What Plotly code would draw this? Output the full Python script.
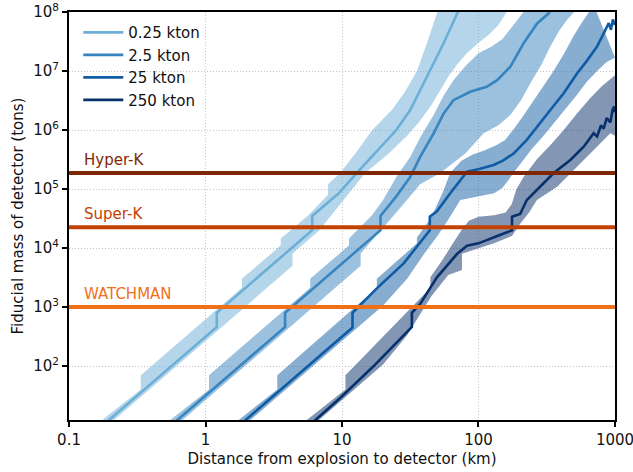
import math
import plotly.graph_objects as go

# ---- central curves: distance (km) vs. required fiducial mass (tons) ----
a_d = [0.15, 1.21, 1.21, 6.05, 6.05, 9.5, 12.85, 17.5, 25.0, 31.6, 42.5, 55.5, 70.0, 85.0]
a_m = [7.1, 460, 800, 2.0e4, 3.5e4, 8.5e4, 1.87e5, 4.0e5, 1.0e6, 2.18e6, 8.5e6, 2.95e7, 9.5e7, 2.5e8]

b_d = [0.3, 3.83, 3.83, 19.15, 19.15, 25.0, 31.6, 37.4, 46.9, 55.5, 65.6, 87.0, 115, 137, 171, 214, 269, 327, 360]
b_m = [2.83, 460, 800, 2.0e4, 3.5e4, 7.5e4, 1.6e5, 3.5e5, 8.8e5, 1.9e6, 3.2e6, 4.45e6, 5.4e6, 7.0e6,
       1.18e7, 2.95e7, 6.4e7, 9.5e7, 1.5e8]

c_d = [0.95, 11.94, 11.94, 18.0, 28.3, 44.0, 44.0, 49.6, 62.1, 73.6, 82.4, 103, 129, 150, 181, 226, 284,
       336, 421, 527, 624, 739, 827, 900, 935, 965, 1000]
c_m = [2.83, 448, 800, 2070, 5500, 2.0e4, 3.4e4, 4.2e4, 8.5e4, 1.42e5, 1.96e5, 2.2e5, 2.55e5, 3.0e5, 4.0e5,
       6.8e5, 1.3e6, 2.18e6, 4.2e6, 9.1e6, 1.5e7, 2.6e7, 4.35e7, 6.5e7, 5.0e7, 7.5e7, 6.0e7]

d_d = [3.2, 9.7, 17.0, 29.9, 32.5, 32.5, 37.4, 49.6, 69.5, 82.4, 100, 145, 176, 176, 202, 226, 284, 356,
       471, 590, 698, 740, 790, 827, 870, 925, 960, 985, 1000]
d_m = [2.95, 28.7, 98.9, 387, 460, 800, 1125, 3185, 7900, 1.09e4, 1.2e4, 1.68e4, 2.0e4, 3.4e4, 3.77e4,
       6.5e4, 1.09e5, 1.87e5, 3.1e5, 5.2e5, 8.8e5, 7.8e5, 1.2e6, 1.05e6, 1.6e6, 1.35e6, 2.2e6, 2.5e6, 2.0e6]

# ---- uncertainty bands: upper and lower edges ----
a_up_d = [0.15, 0.3355, 0.3355, 1.85, 1.85, 3.56, 3.56, 5.59, 7.9, 7.9, 9.7, 13.0, 16.65, 23.2, 29.0,
          35.4, 42.0, 49.6, 53.0]
a_up_m = [9.2, 40, 70, 2130, 3000, 11100, 14500, 3.5e4, 8.0e4, 1.2e5, 1.87e5, 4.5e5, 1.0e6, 2.18e6, 4.5e6,
          1.0e7, 3.0e7, 1.0e8, 1.5e8]
a_lo_d = [0.17, 4.34, 4.34, 6.73, 10.0, 14.8, 22.0, 30.0, 37.0, 45.0, 52.0, 60.0, 70.0, 82.0, 100, 120,
          140, 160, 180]
a_lo_m = [7.7, 4990, 8100, 1.95e4, 6.0e4, 1.87e5, 4.0e5, 8.0e5, 1.4e6, 2.6e6, 4.5e6, 8.0e6, 1.3e7, 2.0e7,
          3.0e7, 4.2e7, 6.0e7, 1.0e8, 1.5e8]

b_up_d = [0.474, 1.061, 1.061, 5.85, 5.85, 11.26, 11.26, 16.6, 20.0, 25.0, 31.6, 37.4, 46.9, 55.5, 65.6,
          80.0, 100, 125, 150, 175, 200, 214, 240]
b_up_m = [9.2, 40, 70, 2130, 3000, 11100, 14500, 3.6e4, 6.5e4, 1.6e5, 3.5e5, 7.5e5, 1.8e6, 3.8e6, 7.0e6,
          1.2e7, 2.0e7, 2.6e7, 3.5e7, 5.5e7, 8.0e7, 1.0e8, 1.5e8]
b_lo_d = [0.54, 13.7, 13.7, 25.0, 37.4, 52.5, 80.0, 109, 140, 171, 205, 240, 290, 336, 390, 445, 520]
b_lo_m = [7.7, 4990, 8100, 4.0e4, 1.2e5, 1.87e5, 4.0e5, 8.8e5, 1.2e6, 1.8e6, 3.2e6, 6.2e6, 1.3e7, 2.6e7,
          4.8e7, 7.3e7, 1.1e8]

c_up_d = [1.5, 3.355, 3.355, 18.0, 18.0, 35.4, 35.4, 45.0, 55.0, 62.0, 75.0, 90.0, 110, 135, 157, 185,
          215, 255, 300, 350, 420, 500, 580, 650, 700]
c_up_m = [9.2, 40, 70, 2100, 3000, 1.2e4, 1.5e4, 3.3e4, 9.0e4, 1.87e5, 3.0e5, 3.8e5, 4.5e5, 5.5e5, 6.8e5,
          1.1e6, 1.8e6, 3.2e6, 5.5e6, 9.5e6, 1.9e7, 4.0e7, 7.0e7, 1.0e8, 1.3e8]
c_lo_d = [1.7, 20.0, 30.0, 40.0, 50.0, 60.0, 73.6, 100, 130, 150, 165, 180, 210, 250, 300, 360, 430, 520,
          620, 740, 860, 1000]
c_lo_m = [7.7, 1060, 3000, 8000, 1.6e4, 3.0e4, 6.5e4, 7.5e4, 8.5e4, 1.05e5, 1.4e5, 1.87e5, 3.0e5, 5.0e5,
          8.0e5, 1.3e6, 2.2e6, 3.8e6, 6.5e6, 1.0e7, 1.4e7, 1.7e7]

d_up_d = [4.74, 10.6, 10.6, 44.4, 44.4, 55.0, 65.0, 75.0, 85.0, 100, 130, 158, 175, 190, 214, 268, 336,
          421, 527, 660, 800, 900, 1000]
d_up_m = [9.2, 40, 70, 2100, 3200, 6500, 1.2e4, 2.0e4, 2.9e4, 3.4e4, 3.6e4, 4.0e4, 5.5e4, 1.0e5, 1.6e5,
          3.2e5, 5.5e5, 1.0e6, 1.9e6, 3.5e6, 5.5e6, 7.0e6, 8.5e6]
d_lo_d = [5.4, 20.0, 29.9, 45.0, 60.0, 75.7, 75.7, 100, 130, 176, 200, 235, 268, 377, 527, 699, 925, 1000]
d_lo_m = [7.7, 106, 330, 1500, 3500, 4240, 8000, 1.0e4, 1.2e4, 1.6e4, 2.5e4, 4.0e4, 6.5e4, 1.09e5, 2.4e5,
          4.6e5, 8.8e5, 8.0e5]

# ---- reference detectors ----
det_names = ["Hyper-K", "Super-K", "WATCHMAN"]
det_mass = [1.87e5, 2.25e4, 1.0e3]
det_colors = ["#7f2704", "#c24104", "#f07018"]

series_names = ["0.25 kton", "2.5 kton", "25 kton", "250 kton"]
series_colors = [(107, 174, 214), (55, 132, 191), (16, 92, 164), (8, 48, 107)]

x_ticks = [0.1, 1, 10, 100, 1000]
x_tick_text = ["0.1", "1", "10", "100", "1000"]
y_ticks = [1e2, 1e3, 1e4, 1e5, 1e6, 1e7, 1e8]
y_tick_text = ["10<sup>%d</sup>" % p for p in range(2, 9)]

centres = [(a_d, a_m), (b_d, b_m), (c_d, c_m), (d_d, d_m)]
bands = [
    (a_up_d, a_up_m, a_lo_d, a_lo_m),
    (b_up_d, b_up_m, b_lo_d, b_lo_m),
    (c_up_d, c_up_m, c_lo_d, c_lo_m),
    (d_up_d, d_up_m, d_lo_d, d_lo_m),
]

fig = go.Figure()

# shaded bands first
for (ud, um, ld, lm), (r, g, b) in zip(bands, series_colors):
    fig.add_trace(go.Scatter(
        x=list(ud) + list(ld)[::-1],
        y=list(um) + list(lm)[::-1],
        fill="toself", mode="lines", line=dict(width=0),
        fillcolor="rgba(%d,%d,%d,0.5)" % (r, g, b),
        hoverinfo="skip", showlegend=False,
    ))

# central curves
for (xd, ym), name, (r, g, b) in zip(centres, series_names, series_colors):
    fig.add_trace(go.Scatter(
        x=xd, y=ym, mode="lines", name=name,
        line=dict(color="rgb(%d,%d,%d)" % (r, g, b), width=2.6),
    ))

# horizontal detector lines on top
for name, m, col in zip(det_names, det_mass, det_colors):
    fig.add_trace(go.Scatter(
        x=[x_ticks[0], x_ticks[-1]], y=[m, m], mode="lines",
        line=dict(color=col, width=4), showlegend=False, hoverinfo="skip",
    ))

for name, m, col in zip(det_names, det_mass, det_colors):
    fig.add_annotation(
        x=math.log10(0.124), y=math.log10(m), xref="x", yref="y",
        text=name, showarrow=False, xanchor="left", yanchor="bottom", yshift=2,
        font=dict(color=col, size=15),
    )

axis_common = dict(
    type="log", showline=True, linecolor="black", linewidth=2, mirror=True,
    ticks="outside", ticklen=5, tickwidth=1.5, tickcolor="black",
    showgrid=True, gridcolor="#c4c4c4", gridwidth=1, griddash="1px,2px",
    zeroline=False, tickfont=dict(size=15, color="#111"),
    ticklabeloverflow="allow",
)

fig.update_xaxes(
    range=[-1.0002, 3.0002], tickvals=x_ticks, ticktext=x_tick_text,
    title=dict(text="Distance from explosion to detector (km)", font=dict(size=15, color="#111"), standoff=5),
    **axis_common,
)
fig.update_yaxes(
    range=[1.085, 8.0002], tickvals=y_ticks, ticktext=y_tick_text,
    title=dict(text="Fiducial mass of detector (tons)", font=dict(size=15, color="#111"), standoff=6),
    **axis_common,
)

fig.update_layout(
    width=633, height=472,
    margin=dict(l=69, r=18, t=12, b=52, autoexpand=False),
    paper_bgcolor="white", plot_bgcolor="white",
    font=dict(family="DejaVu Sans", size=15, color="#111"),
    showlegend=True,
    legend=dict(x=0.017, y=0.99, xanchor="left", yanchor="top", itemwidth=40,
                bgcolor="rgba(0,0,0,0)", borderwidth=0, font=dict(size=15)),
)

fig.write_html("out.html")
